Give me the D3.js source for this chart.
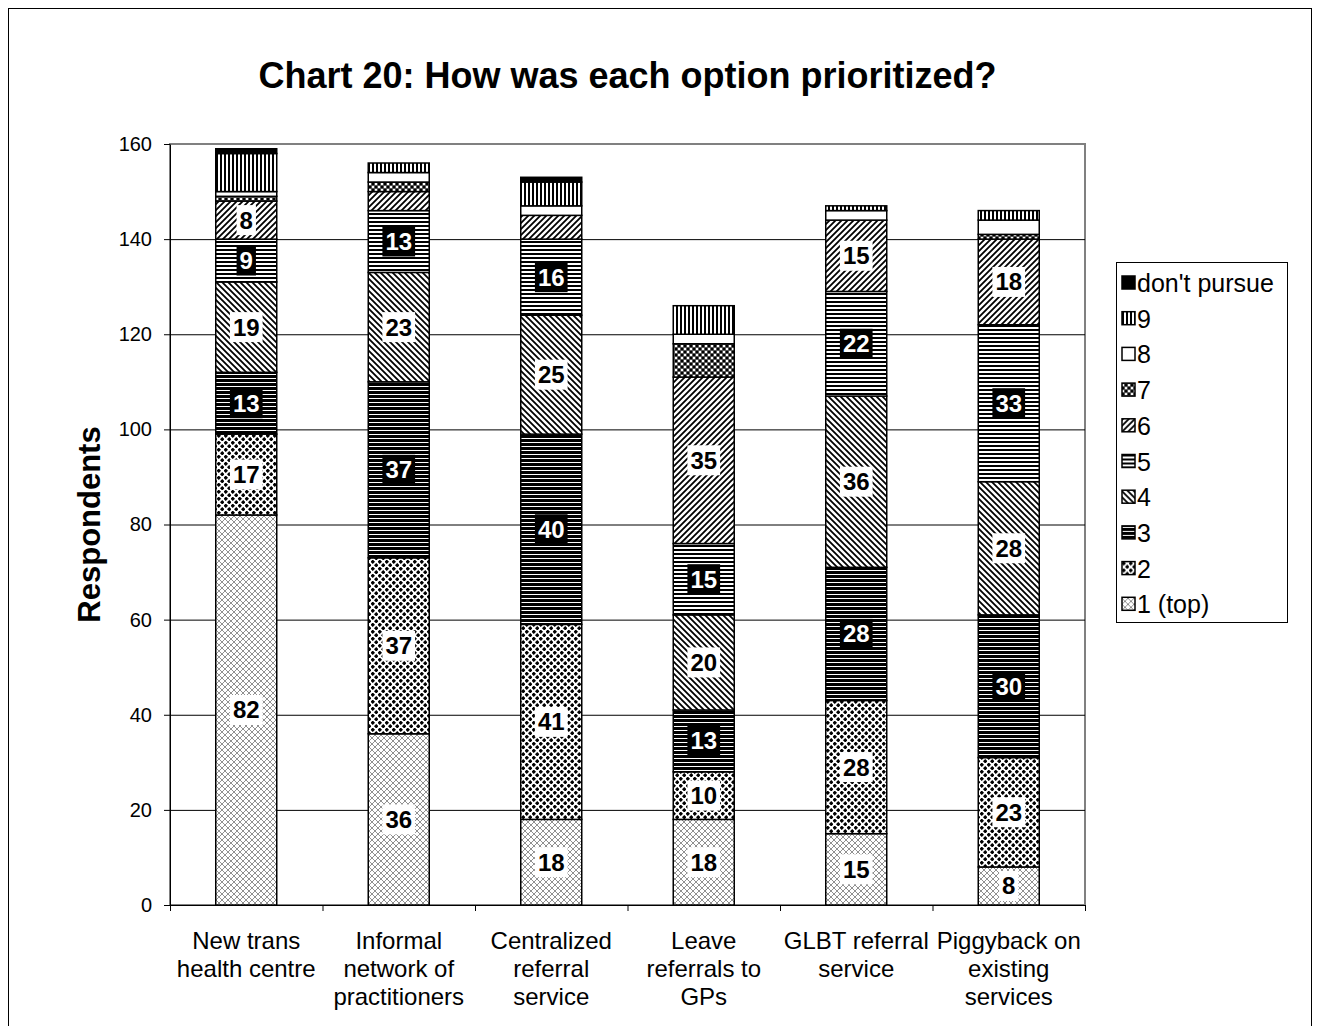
<!DOCTYPE html>
<html>
<head>
<meta charset="utf-8">
<script src="https://cdn.jsdelivr.net/npm/d3@7"></script>
<style>
    body { margin: 0; background: #fff; }
    text { font-family: Arial, "Liberation Sans", sans-serif; }
</style>
</head>
<body>
<svg id="svgChart" width="1320" height="1026"></svg>
<script>
// categories (lines of each x label)
var categories = [
    ["New trans", "health centre"],
    ["Informal", "network of", "practitioners"],
    ["Centralized", "referral", "service"],
    ["Leave", "referrals to", "GPs"],
    ["GLBT referral", "service"],
    ["Piggyback on", "existing", "services"]
];

// series, bottom to top
var seriesNames = ["1 (top)", "2", "3", "4", "5", "6", "7", "8", "9", "don't pursue"];

var s1  = [82, 36, 18, 18, 15, 8];
var s2  = [17, 37, 41, 10, 28, 23];
var s3  = [13, 37, 40, 13, 28, 30];
var s4  = [19, 23, 25, 20, 36, 28];
var s5  = [9, 13, 16, 15, 22, 33];
var s6  = [8, 4, 5, 35, 15, 18];
var s7  = [1, 2, 0, 7, 0, 1];
var s8  = [1, 2, 2, 2, 2, 3];
var s9  = [8, 2, 5, 6, 1, 2];
var sDP = [1, 0, 1, 0, 0, 0];

var seriesValues = [s1, s2, s3, s4, s5, s6, s7, s8, s9, sDP];

// only the first six series carry value labels, and only for larger values
var labelledSeries = ["1 (top)", "2", "3", "4", "5", "6"];
var labelMin = 8;
// series whose labels are drawn white on black
var darkLabelSeries = ["3", "5"];

var yTicks = [0, 20, 40, 60, 80, 100, 120, 140, 160];

var svg = d3.select("#svgChart");

// outer frame
svg.append("rect")
    .attr("x", 8.5).attr("y", 8.5)
    .attr("width", 1303).attr("height", 1040)
    .attr("fill", "none").attr("stroke", "#000").attr("stroke-width", 1);

// ******* patterns
var defs = svg.append("defs");

function pattern(id, w, h) {
    var p = defs.append("pattern")
        .attr("id", id)
        .attr("patternUnits", "userSpaceOnUse")
        .attr("width", w).attr("height", h);
    return p;
}

// 1: light grey crosshatch
var p1 = pattern("pat1", 6, 6);
p1.append("rect").attr("width", 6).attr("height", 6).attr("fill", "#fff");
p1.append("path").attr("d", "M0,0 L6,6 M6,0 L0,6").attr("stroke", "#909090").attr("stroke-width", 1);

// 2: black diamond dots
var p2 = pattern("pat2", 7, 7);
p2.append("rect").attr("width", 7).attr("height", 7).attr("fill", "#fff");
p2.append("path").attr("d", "M1.75,-0.5 L4,1.75 L1.75,4 L-0.5,1.75 Z M5.25,3 L7.5,5.25 L5.25,7.5 L3,5.25 Z").attr("fill", "#000");

// 3: black with thin white horizontal lines
var p3 = pattern("pat3", 4, 4);
p3.append("rect").attr("width", 4).attr("height", 4).attr("fill", "#000");
p3.append("rect").attr("y", 2).attr("width", 4).attr("height", 1).attr("fill", "#fff");

// 4: backward diagonals
var p4 = pattern("pat4", 6, 6);
p4.append("rect").attr("width", 6).attr("height", 6).attr("fill", "#fff");
p4.append("path").attr("d", "M-3,3 L3,9 M0,0 L6,6 M3,-3 L9,3").attr("stroke", "#000").attr("stroke-width", 1.8);

// 5: horizontal lines, lighter
var p5 = pattern("pat5", 4, 4);
p5.append("rect").attr("width", 4).attr("height", 4).attr("fill", "#fff");
p5.append("rect").attr("y", 1).attr("width", 4).attr("height", 2).attr("fill", "#000");

// 6: forward diagonals
var p6 = pattern("pat6", 6, 6);
p6.append("rect").attr("width", 6).attr("height", 6).attr("fill", "#fff");
p6.append("path").attr("d", "M-3,3 L3,-3 M0,6 L6,0 M3,9 L9,3").attr("stroke", "#000").attr("stroke-width", 1.8);

// 7: dark checks
var p7 = pattern("pat7", 6, 6);
p7.append("rect").attr("width", 6).attr("height", 6).attr("fill", "#555");
p7.append("rect").attr("x", 0).attr("y", 0).attr("width", 2).attr("height", 2).attr("fill", "#fff");
p7.append("rect").attr("x", 3).attr("y", 3).attr("width", 2).attr("height", 2).attr("fill", "#fff");
p7.append("rect").attr("x", 3).attr("y", 0).attr("width", 2).attr("height", 2).attr("fill", "#000");
p7.append("rect").attr("x", 0).attr("y", 3).attr("width", 2).attr("height", 2).attr("fill", "#000");

// 9: vertical stripes
var p9 = pattern("pat9", 4, 4);
p9.append("rect").attr("width", 4).attr("height", 4).attr("fill", "#fff");
p9.append("rect").attr("width", 2).attr("height", 4).attr("fill", "#000");

function getFill(name) {
    if (name == "1 (top)")      return "url(#pat1)";
    if (name == "2")            return "url(#pat2)";
    if (name == "3")            return "url(#pat3)";
    if (name == "4")            return "url(#pat4)";
    if (name == "5")            return "url(#pat5)";
    if (name == "6")            return "url(#pat6)";
    if (name == "7")            return "url(#pat7)";
    if (name == "8")            return "#fff";
    if (name == "9")            return "url(#pat9)";
    return "#000";
}

// ******* scales
var margin = {left: 170, right: 1085, top: 144, bottom: 905};

var x = d3.scaleBand()
    .domain(d3.range(categories.length))
    .range([margin.left, margin.right])
    .padding(0);

var y = d3.scaleLinear()
    .domain([0, 160])
    .range([margin.bottom, margin.top]);

var barWidth = x.bandwidth() * 0.4;

// plot area
svg.append("rect")
    .attr("x", margin.left).attr("y", margin.top)
    .attr("width", margin.right - margin.left)
    .attr("height", margin.bottom - margin.top)
    .attr("fill", "#fff").attr("stroke", "#808080").attr("stroke-width", 2);

// gridlines
svg.append("g")
    .selectAll("line")
    .data(yTicks.filter(d => d > 0 && d < 160))
    .enter().append("line")
    .attr("x1", margin.left).attr("x2", margin.right)
    .attr("y1", d => y(d) + 0.5).attr("y2", d => y(d) + 0.5)
    .attr("stroke", "#000").attr("stroke-width", 1);

// stack
var table = categories.map((c, i) => {
    var row = {idx: i};
    seriesNames.forEach((s, j) => row[s] = seriesValues[j][i]);
    return row;
});
var stacked = d3.stack().keys(seriesNames)(table);

var layers = svg.append("g").selectAll("g")
    .data(stacked)
    .enter().append("g");

layers.selectAll("rect")
    .data(d => d.filter(p => p[1] - p[0] > 0))
    .enter().append("rect")
    .attr("x", d => x(d.data.idx) + (x.bandwidth() - barWidth) / 2)
    .attr("width", barWidth)
    .attr("y", d => y(d[1]))
    .attr("height", d => y(d[0]) - y(d[1]))
    .attr("fill", function(d) { return getFill(d3.select(this.parentNode).datum().key); })
    .attr("stroke", "#000")
    .attr("stroke-width", 1.5);

// value labels
stacked.forEach(layer => {
    if (labelledSeries.indexOf(layer.key) < 0) return;
    var dark = darkLabelSeries.indexOf(layer.key) >= 0;
    layer.forEach(p => {
        var v = p[1] - p[0];
        if (v < labelMin) return;
        var cx = x(p.data.idx) + x.bandwidth() / 2;
        var cy = y((p[0] + p[1]) / 2);
        var g = svg.append("g");
        var t = g.append("text")
            .attr("x", cx).attr("y", cy + 8.5)
            .attr("text-anchor", "middle")
            .style("font-size", "24px").style("font-weight", "bold")
            .attr("fill", dark ? "#fff" : "#000")
            .text(v);
        var bb = t.node().getBBox();
        g.insert("rect", "text")
            .attr("x", bb.x - 3).attr("y", cy - 15)
            .attr("width", bb.width + 6).attr("height", 30)
            .attr("fill", dark ? "#000" : "#fff");
    });
});

// y axis
var yAxis = svg.append("g")
    .attr("transform", "translate(" + margin.left + ",0)")
    .call(d3.axisLeft(y).tickValues(yTicks).tickSize(6).tickPadding(12).tickSizeOuter(0));
yAxis.select(".domain").attr("stroke", "#000").attr("stroke-width", 1);
yAxis.selectAll("text").style("font-size", "20px").attr("fill", "#000")
    .style("font-family", "Arial, 'Liberation Sans', sans-serif");

// x axis
var xTickPos = d3.range(categories.length).map(i => x(i)).concat([margin.right]);
svg.append("line")
    .attr("x1", margin.left).attr("x2", margin.right)
    .attr("y1", margin.bottom + 0.5).attr("y2", margin.bottom + 0.5)
    .attr("stroke", "#000");
svg.append("g").selectAll("line")
    .data(xTickPos)
    .enter().append("line")
    .attr("x1", d => d + 0.5).attr("x2", d => d + 0.5)
    .attr("y1", margin.bottom).attr("y2", margin.bottom + 6)
    .attr("stroke", "#000");

svg.append("g").selectAll("text")
    .data(categories)
    .enter().append("text")
    .attr("text-anchor", "middle")
    .style("font-size", "24px")
    .attr("x", (d, i) => x(i) + x.bandwidth() / 2)
    .attr("y", 949)
    .each(function(d) {
        var t = d3.select(this);
        d.forEach((line, k) => {
            t.append("tspan")
                .attr("x", t.attr("x"))
                .attr("dy", k == 0 ? 0 : 28)
                .text(line);
        });
    });

// title
svg.append("text")
    .attr("x", (margin.left + margin.right) / 2)
    .attr("y", 88)
    .attr("text-anchor", "middle")
    .style("font-size", "36px").style("font-weight", "bold")
    .text("Chart 20: How was each option prioritized?");

// y title
svg.append("text")
    .attr("transform", "translate(100," + ((margin.top + margin.bottom) / 2) + ") rotate(-90)")
    .attr("text-anchor", "middle")
    .style("font-size", "31px").style("font-weight", "bold")
    .text("Respondents");

// legend
var legend = svg.append("g");
legend.append("rect")
    .attr("x", 1116.5).attr("y", 262.5)
    .attr("width", 171).attr("height", 360)
    .attr("fill", "#fff").attr("stroke", "#000");

var legendItems = seriesNames.slice().reverse();
var li = legend.selectAll(".item")
    .data(legendItems)
    .enter().append("g")
    .attr("class", "item")
    .attr("transform", (d, i) => "translate(1122," + (283 + i * 35.7) + ")");
li.append("rect")
    .attr("x", 0).attr("y", -7)
    .attr("width", 13).attr("height", 13)
    .attr("fill", d => getFill(d))
    .attr("stroke", "#000").attr("stroke-width", 1.5);
li.append("text")
    .attr("x", 15).attr("y", 9)
    .style("font-size", "25px")
    .text(d => d);
</script>
</body>
</html>
